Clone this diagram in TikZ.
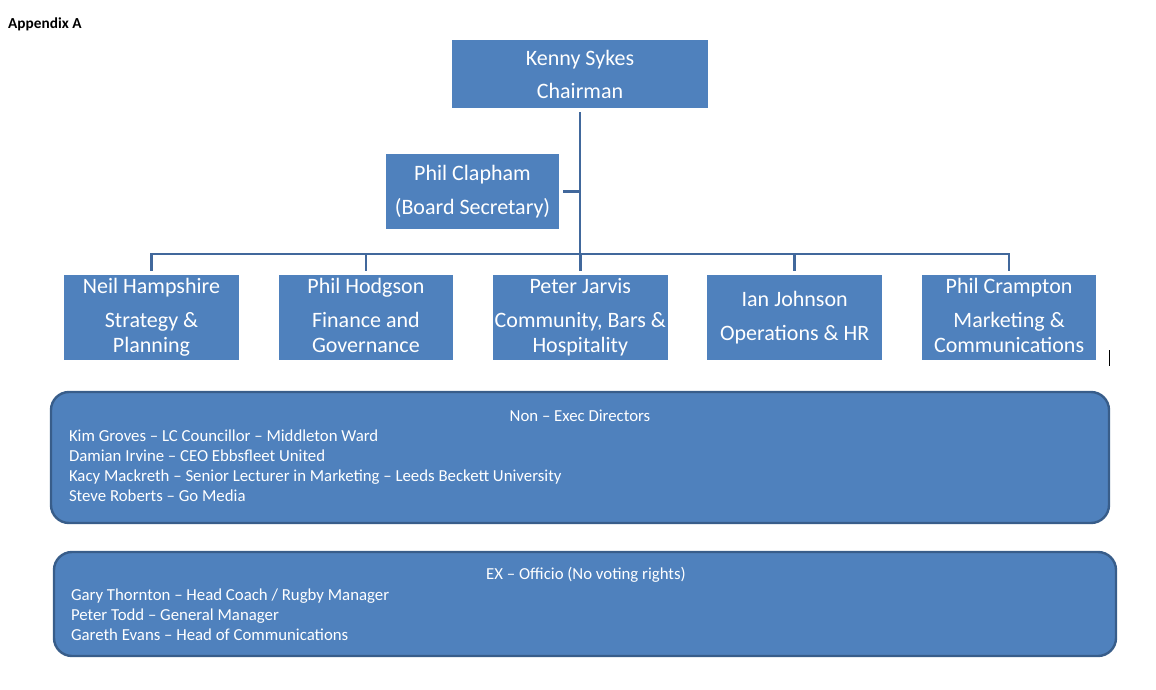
\documentclass[tikz,border=0pt]{standalone}
\usepackage{fontspec}
\setmainfont{Carlito}
\usepackage{tikz}
\usetikzlibrary{positioning}
\definecolor{boxblue}{HTML}{4F81BD}
\definecolor{lineblue}{HTML}{41689C}
\definecolor{edgeblue}{HTML}{385D8A}

\begin{document}
\begin{tikzpicture}[x=1pt, y=-1pt,
  orgbox/.style={fill=boxblue, text=white, inner sep=0pt, minimum width=174.5pt, minimum height=85pt, align=center, font=\fontsize{22}{25}\selectfont},
  link/.style={draw=lineblue, line width=2.6pt},
  panel/.style={draw=edgeblue, line width=2.4pt, fill=boxblue, rounded corners=18pt},
  paneltext/.style={text=white, inner sep=0pt, align=left, font=\fontsize{16.8}{20}\selectfont}]
\useasboundingbox (0,0) rectangle (1156,690);

\node[anchor=base west, inner sep=0pt, font=\fontsize{15.3}{18}\selectfont\bfseries] (appx) at (8,29) {Appendix A};

% board
\node[orgbox, minimum width=256pt, minimum height=68pt] (chair) at (580,74) {Kenny Sykes\\[8pt]Chairman};
\node[orgbox, minimum width=173pt, minimum height=75pt] (secretary) at (472.5,191.5) {Phil Clapham\\[9pt](Board Secretary)};

\node[orgbox] (hampshire) at (151.5,317.5) {Neil Hampshire\\[9pt]Strategy \&\\Planning};
\node[orgbox, right=39.5pt of hampshire] (hodgson) {Phil Hodgson\\[9pt]Finance and\\Governance\vphantom{g}};
\node[orgbox, right=39.5pt of hodgson] (jarvis) {Peter Jarvis\\[9pt]Community, Bars \&\\Hospitality};
\node[orgbox, right=39.5pt of jarvis] (johnson) {Ian Johnson\\[9pt]Operations \& HR};
\node[orgbox, right=39.5pt of johnson] (crampton) {Phil Crampton\\[9pt]Marketing \&\\Communications\vphantom{g}};

\coordinate (bus) at (580,254);
\draw[link] ([yshift=-4pt]chair.south) -- (bus);
\draw[link] ([xshift=4pt]secretary.east) -- (secretary.east -| bus);
\draw[link, line cap=rect] (hampshire.north |- bus) -- (crampton.north |- bus);
\foreach \n in {hampshire,hodgson,jarvis,johnson,crampton}
  \draw[link] (\n.north |- bus) -- ([yshift=4pt]\n.north);

\draw[line width=0.8pt] (1109,350) -- (1109,366);

% directors panels
\node[panel, minimum width=1058pt, minimum height=131pt] (nonexec) at (580,457.5) {};
\node[paneltext] (nonexectitle) at (580,416) {Non – Exec Directors};
\node[paneltext, anchor=north west] (nonexeclist) at ([xshift=19pt, yshift=-39pt]nonexec.north west) {Kim Groves – LC Councillor – Middleton Ward\\Damian Irvine – CEO Ebbsfleet United\\Kacy Mackreth – Senior Lecturer in Marketing – Leeds Beckett University\\Steve Roberts – Go Media};

\node[panel, minimum width=1062pt, minimum height=104pt] (exofficio) at (585,604) {};
\node[paneltext] (exofficiotitle) at (586,575) {EX – Officio (No voting rights)};
\node[paneltext, anchor=north west] (exofficiolist) at ([xshift=18pt, yshift=-38pt]exofficio.north west) {Gary Thornton – Head Coach / Rugby Manager\\Peter Todd – General Manager\\Gareth Evans – Head of Communications};
\end{tikzpicture}
\end{document}
